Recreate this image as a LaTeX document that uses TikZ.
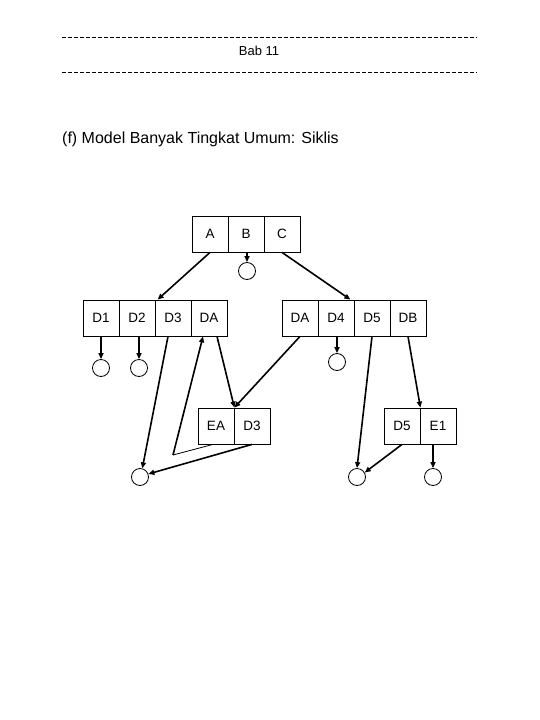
\documentclass[tikz,border=0pt]{standalone}
\usepackage{fontspec}
\setmainfont{Liberation Sans}
\usetikzlibrary{arrows.meta,calc}
\begin{document}
\begin{tikzpicture}[x=1pt,y=-1pt,
  cell/.style={draw,line width=0.8pt,minimum width=36pt,minimum height=36pt,inner sep=0pt,font=\fontsize{13.5}{15}\selectfont},
  leaf/.style={draw,circle,line width=0.8pt,minimum size=17pt,inner sep=0pt},
  arr/.style={line width=1.6pt,-{Triangle[length=6pt,width=5pt]}},
  thinline/.style={line width=0.8pt},
  rule/.style={line width=0.8pt,dash pattern=on 4pt off 2pt}]
\useasboundingbox (0,0) rectangle (540,720);
% header
\draw[rule] (62,37) -- (477,37);
\node[anchor=base,font=\fontsize{13}{15}\selectfont] (bab) at (259,55) {Bab 11};
\draw[rule] (62,72) -- (477,72);
\node[anchor=base west,inner sep=0pt,font=\fontsize{16}{19}\selectfont] (title) at (62,143) {(f) Model Banyak Tingkat Umum: Siklis};
% top row
\node[cell] (a) at (210,234) {A};
\node[cell] (b) at (246,234) {B};
\node[cell] (c) at (282,234) {C};
% second row left
\node[cell] (d1) at (101,318) {D1};
\node[cell] (d2) at (137,318) {D2};
\node[cell] (d3) at (173,318) {D3};
\node[cell] (da) at (209,318) {DA};
% second row right
\node[cell] (ra) at (300,318) {DA};
\node[cell] (d4) at (336,318) {D4};
\node[cell] (d5) at (372,318) {D5};
\node[cell] (db) at (408,318) {DB};
% third row
\node[cell] (ea) at (216,426) {EA};
\node[cell] (e3) at (252,426) {D3};
\node[cell] (f5) at (402,426) {D5};
\node[cell] (e1) at (438,426) {E1};
% leaves
\node[leaf] (cb) at (247,271) {};
\node[leaf] (c1) at (101,368) {};
\node[leaf] (c2) at (139,368) {};
\node[leaf] (c4) at (337,362) {};
\node[leaf] (cl) at (140,477) {};
\node[leaf] (cm) at (357,477) {};
\node[leaf] (ce) at (433,477) {};
\coordinate (v) at (173,455);
% connectors
\draw[arr] (a.south) -- ([xshift=3pt]d3.north west);
\draw[arr] ([xshift=1pt]b.south) -- (cb.north);
\draw[arr] (c.south) -- ([xshift=-4pt]d4.north east);
\draw[arr] (d1.south) -- (c1.north);
\draw[arr] ([xshift=2pt]d2.south) -- (c2.north);
\draw[arr] ([xshift=-5pt]d3.south) -- (cl.75);
\draw[arr] ([xshift=8pt]da.south) -- (ea.north east);
\draw[arr] (ra.south) -- (ea.north east);
\draw[thinline] ([xshift=-3pt]ea.south) -- (v);
\draw[arr] (v) -- ([xshift=-6pt]da.south);
\draw[arr] (e3.south) -- (cl.20);
\draw[arr] ([xshift=1pt]d4.south) -- (c4.north);
\draw[arr] (d5.south) -- (cm.north);
\draw[arr] (db.south) -- (f5.north east);
\draw[arr] (f5.south) -- (cm.30);
\draw[arr] ([xshift=-5pt]e1.south) -- (ce.north);
\end{tikzpicture}
\end{document}
